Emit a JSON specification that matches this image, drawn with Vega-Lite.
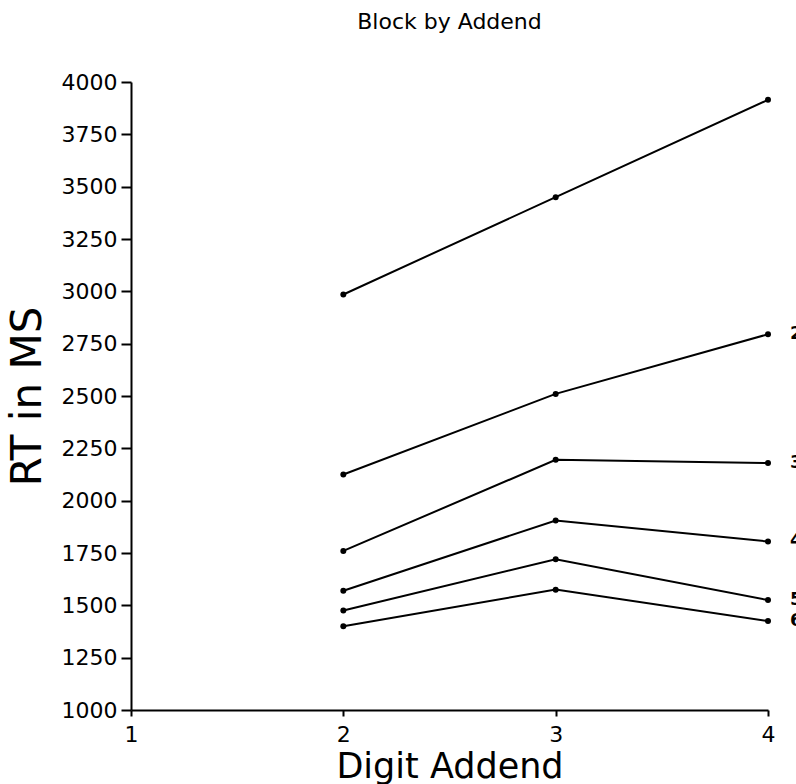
{
  "$schema": "https://vega.github.io/schema/vega-lite/v6.json",
  "autosize": {"type": "none"},
  "width": 637,
  "height": 628,
  "padding": {"left": 131, "top": 82, "right": 28, "bottom": 74},
  "background": "white",
  "title": {"text": "Block by Addend", "font": "DejaVu Sans", "fontSize": 22, "fontWeight": "normal", "color": "black", "anchor": "middle", "offset": 37},
  "config": {
    "view": {"stroke": null},
    "axis": {"grid": false, "domainColor": "black", "tickColor": "black", "labelColor": "black", "titleColor": "black", "labelFont": "DejaVu Sans", "titleFont": "DejaVu Sans", "titleFontWeight": "normal", "domainWidth": 2, "tickWidth": 2, "labelFlush": false}
  },
  "data": {"values": [
    {"series": "1", "addend": 2, "rt": 2985},
    {"series": "1", "addend": 3, "rt": 3450},
    {"series": "1", "addend": 4, "rt": 3915},
    {"series": "2", "addend": 2, "rt": 2125},
    {"series": "2", "addend": 3, "rt": 2510},
    {"series": "2", "addend": 4, "rt": 2795},
    {"series": "3", "addend": 2, "rt": 1760},
    {"series": "3", "addend": 3, "rt": 2195},
    {"series": "3", "addend": 4, "rt": 2180},
    {"series": "4", "addend": 2, "rt": 1570},
    {"series": "4", "addend": 3, "rt": 1905},
    {"series": "4", "addend": 4, "rt": 1805},
    {"series": "5", "addend": 2, "rt": 1475},
    {"series": "5", "addend": 3, "rt": 1720},
    {"series": "5", "addend": 4, "rt": 1525},
    {"series": "6", "addend": 2, "rt": 1400},
    {"series": "6", "addend": 3, "rt": 1575},
    {"series": "6", "addend": 4, "rt": 1425}
  ]},
  "encoding": {
    "x": {"field": "addend", "type": "quantitative", "scale": {"domain": [1, 4], "nice": false, "zero": false},
      "axis": {"title": "Digit Addend", "values": [1, 2, 3, 4], "format": "d", "labelFontSize": 22, "titleFontSize": 35, "tickSize": 6, "labelPadding": 8, "titleY": 67, "titleBaseline": "alphabetic"}},
    "y": {"field": "rt", "type": "quantitative", "scale": {"domain": [1000, 4000], "nice": false, "zero": false},
      "axis": {"title": "RT in MS", "values": [1000, 1250, 1500, 1750, 2000, 2250, 2500, 2750, 3000, 3250, 3500, 3750, 4000], "format": "d", "labelFontSize": 22, "titleFontSize": 42, "tickSize": 10, "labelPadding": 4, "titlePadding": 12}}
  },
  "layer": [
    {"mark": {"type": "line", "color": "black", "strokeWidth": 2}, "encoding": {"detail": {"field": "series"}}},
    {"mark": {"type": "circle", "color": "black", "size": 36, "opacity": 1}},
    {"transform": [{"filter": "datum.addend == 4 && datum.series != '1'"}],
      "mark": {"type": "text", "align": "left", "baseline": "middle", "dx": 22, "font": "DejaVu Sans", "fontSize": 18, "fontWeight": "bold", "color": "black"},
      "encoding": {"text": {"field": "series"}}}
  ]
}
